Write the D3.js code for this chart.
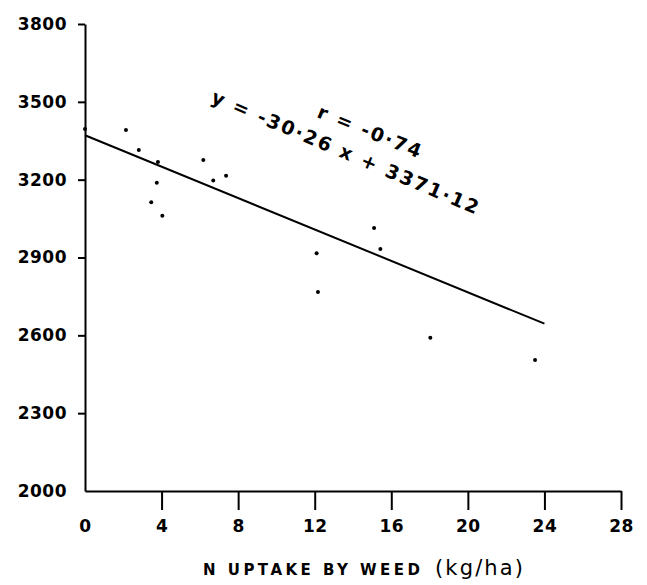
<!DOCTYPE html>
<html>
<head>
<meta charset="utf-8">
<script src="https://cdn.jsdelivr.net/npm/d3@7"></script>
<style>
  body { margin: 0; background: #fff; }
  svg { display: block; }
  .axis text { font-family: "DejaVu Sans", sans-serif; font-weight: bold; font-size: 17px; letter-spacing: 0.5px; fill: #000; }
  .axis path, .axis line { stroke: #000; stroke-width: 2; }
</style>
</head>
<body>
<div id="chart"></div>
<script>
// N uptake by weed (kg/ha) vs yield
let uptake = [0, 2.14, 2.81, 3.81, 3.75, 3.46, 4.04, 6.18, 6.70, 7.37, 12.1, 12.17, 15.1, 15.43, 18.04, 23.51];
let yieldVals = [3395, 3391, 3314, 3268, 3188, 3113, 3061, 3276, 3197, 3215, 2916, 2767, 3014, 2933, 2591, 2505];

let xTicks = [0, 4, 8, 12, 16, 20, 24, 28];
let yTicks = [2000, 2300, 2600, 2900, 3200, 3500, 3800];

let slope = -30.26, intercept = 3371.12, rVal = "-0·74";
let lineEnd = 24;

let width = 647, height = 585;

let svg = d3.select('#chart')
  .append('svg')
  .attr('width', width)
  .attr('height', height);

let x = d3.scaleLinear().domain([0, 28]).range([85, 621]);
let y = d3.scaleLinear().domain([2000, 3800]).range([491, 24]);

// y axis
svg.append('g')
  .attr('class', 'axis')
  .attr('transform', 'translate(' + x(0) + ',0)')
  .call(d3.axisLeft(y).tickValues(yTicks).tickSize(7).tickSizeOuter(0).tickPadding(11).tickFormat(d3.format('d')))
  .selectAll('.tick')
  .filter(d => d === 2000)
  .select('line').remove();

// x axis
svg.append('g')
  .attr('class', 'axis')
  .attr('transform', 'translate(0,' + y(2000) + ')')
  .call(d3.axisBottom(x).tickValues(xTicks).tickSize(19).tickSizeOuter(0).tickPadding(10))
  .selectAll('.tick')
  .filter(d => d === 0)
  .select('line').remove();

// axis title
let title = svg.append('text')
  .attr('x', 203)
  .attr('y', 575)
  .style('font-family', '"DejaVu Sans", sans-serif')
  .style('font-weight', 'bold')
  .style('fill', '#000');
title.append('tspan')
  .style('font-size', '15px')
  .attr('textLength', 217)
  .text('N UPTAKE BY WEED');
title.append('tspan')
  .attr('x', 435)
  .style('font-size', '21px')
  .style('font-weight', 'normal')
  .attr('textLength', 88)
  .text('(kg/ha)');

// regression line
svg.append('line')
  .attr('x1', x(0))
  .attr('y1', y(intercept))
  .attr('x2', x(lineEnd))
  .attr('y2', y(intercept + slope * lineEnd))
  .attr('stroke', '#000')
  .attr('stroke-width', 2);

// points
svg.append('g')
  .selectAll('circle')
  .data(uptake)
  .enter().append('circle')
  .attr('cx', d => x(d))
  .attr('cy', (d, i) => y(yieldVals[i]))
  .attr('r', 2)
  .attr('fill', '#000');

// equation labels
svg.append('text')
  .attr('transform', 'translate(210,102) rotate(23)')
  .attr('textLength', 288)
  .style('font-family', '"DejaVu Sans", sans-serif')
  .style('font-weight', 'bold')
  .style('font-size', '19px')
  .text('y = -30·26 x + 3371·12');

svg.append('text')
  .attr('transform', 'translate(316,117) rotate(22)')
  .attr('textLength', 110)
  .style('font-family', '"DejaVu Sans", sans-serif')
  .style('font-weight', 'bold')
  .style('font-size', '19px')
  .text('r = ' + rVal);
</script>
</body>
</html>
